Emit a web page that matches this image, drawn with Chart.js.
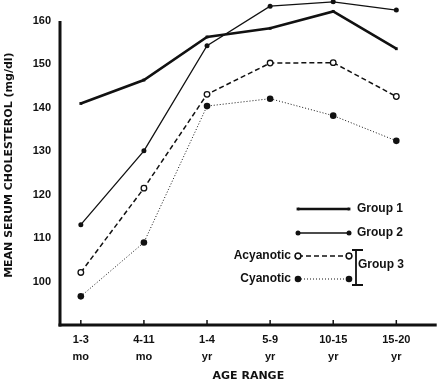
<!DOCTYPE html>
<html>
<head>
<meta charset="utf-8">
<script src="https://cdn.jsdelivr.net/npm/chart.js@4"></script>
<style>
html, body { margin: 0; padding: 0; background: #fff; }
#wrap { width: 442px; height: 379px; }
</style>
</head>
<body>
<div id="wrap"><canvas id="myChart"></canvas></div>
<script>
// values
var ageLabels = [["1-3", "mo"], ["4-11", "mo"], ["1-4", "yr"], ["5-9", "yr"], ["10-15", "yr"], ["15-20", "yr"]];
var yTicks = [100, 110, 120, 130, 140, 150, 160];
var group1 = [141, 146.4, 156.3, 158.3, 162.2, 153.6];
var group2 = [113.1, 130.1, 154.3, 163.4, 164.4, 162.5];
var acyanotic = [102.1, 121.5, 143.1, 150.3, 150.4, 142.6];
var cyanotic = [96.6, 109, 140.4, 142.1, 138.2, 132.4];

var INK = '#111';
var FONT = 'Liberation Sans, Arial, sans-serif';
var TFONT = 'DejaVu Sans, sans-serif';

function toPoints(arr) {
  return arr.map(function(v, i) { return { x: i, y: v }; });
}

var datasets = [
  { label: 'Group 1', data: toPoints(group1), borderColor: INK, backgroundColor: INK,
    borderWidth: 2.6, pointStyle: 'rect', pointRadius: 2, pointBorderWidth: 0 },
  { label: 'Group 2', data: toPoints(group2), borderColor: INK, backgroundColor: INK,
    borderWidth: 1.3, pointStyle: 'circle', pointRadius: 2.5, pointBorderWidth: 0 },
  { label: 'Acyanotic', data: toPoints(acyanotic), borderColor: INK, backgroundColor: '#fff',
    borderWidth: 1.5, borderDash: [5, 3], pointStyle: 'circle', pointRadius: 2.8, pointBorderWidth: 1.3 },
  { label: 'Cyanotic', data: toPoints(cyanotic), borderColor: INK, backgroundColor: INK,
    borderWidth: 1, borderDash: [1, 2], pointStyle: 'circle', pointRadius: 3.3, pointBorderWidth: 0 }
];
datasets.forEach(function(d) { d.tension = 0; d.clip = false; d.fill = false; });

// axis lines, tick stubs and the hand-laid legend
var decorPlugin = {
  id: 'decor',
  afterDraw: function(chart) {
    var ctx = chart.ctx;
    var xs = chart.scales.x, ys = chart.scales.y;
    var area = chart.chartArea;
    ctx.save();
    ctx.strokeStyle = INK;
    ctx.lineCap = 'butt';
    // y axis (only up to 160)
    ctx.lineWidth = 3;
    ctx.beginPath();
    ctx.moveTo(area.left, ys.getPixelForValue(160));
    ctx.lineTo(area.left, area.bottom + 1.5);
    ctx.stroke();
    // x axis
    ctx.beginPath();
    ctx.moveTo(area.left - 1.5, area.bottom);
    ctx.lineTo(area.right, area.bottom);
    ctx.stroke();
    // small upward ticks on x axis
    ctx.lineWidth = 1.5;
    for (var i = 0; i < ageLabels.length; i++) {
      var px = xs.getPixelForValue(i);
      ctx.beginPath();
      ctx.moveTo(px, area.bottom);
      ctx.lineTo(px, area.bottom - 5);
      ctx.stroke();
    }

    // legend
    var x0 = 298, x1 = 349;
    var rows = [209, 233, 256, 279];
    ctx.font = 'bold 12px ' + FONT;
    ctx.fillStyle = INK;
    ctx.textBaseline = 'middle';
    chart.data.datasets.forEach(function(d, k) {
      var y = rows[k];
      ctx.save();
      ctx.lineWidth = d.borderWidth;
      ctx.setLineDash(d.borderDash || []);
      ctx.beginPath();
      ctx.moveTo(x0, y);
      ctx.lineTo(x1, y);
      ctx.stroke();
      ctx.restore();
      [x0, x1].forEach(function(px) {
        Chart.helpers.drawPoint(ctx, {
          pointStyle: d.pointStyle, radius: d.pointRadius, rotation: 0,
          borderWidth: d.pointBorderWidth
        }, px, y);
        ctx.fillStyle = d.backgroundColor;
        ctx.strokeStyle = INK;
        ctx.lineWidth = d.pointBorderWidth;
        if (d.pointBorderWidth > 0) {
          ctx.beginPath();
          ctx.arc(px, y, d.pointRadius, 0, Math.PI * 2);
          ctx.fill();
          ctx.stroke();
        }
        ctx.fillStyle = INK;
      });
    });
    ctx.textAlign = 'left';
    ctx.fillText('Group 1', 357, rows[0]);
    ctx.fillText('Group 2', 357, rows[1]);
    ctx.textAlign = 'right';
    ctx.fillText('Acyanotic', 291, rows[2]);
    ctx.fillText('Cyanotic', 291, rows[3]);
    ctx.textAlign = 'left';
    ctx.fillText('Group 3', 358, 265);
    // bracket
    ctx.lineWidth = 1.8;
    ctx.beginPath();
    ctx.moveTo(356, 250); ctx.lineTo(356, 285);
    ctx.moveTo(352, 250); ctx.lineTo(363, 250);
    ctx.moveTo(352, 285); ctx.lineTo(363, 285);
    ctx.stroke();
    ctx.restore();
  }
};

var myChart = new Chart(document.getElementById('myChart'), {
  type: 'line',
  data: { datasets: datasets },
  options: {
    responsive: true,
    maintainAspectRatio: false,
    animation: false,
    layout: { padding: 0 },
    plugins: { legend: { display: false }, tooltip: { enabled: false } },
    scales: {
      x: {
        type: 'linear',
        min: -0.33,
        max: 5.64,
        afterBuildTicks: function(s) { s.ticks = ageLabels.map(function(l, i) { return { value: i }; }); },
        afterFit: function(s) { s.height = 54; s.paddingLeft = 0; s.paddingRight = 0; },
        grid: { display: false, drawTicks: false },
        border: { display: false },
        ticks: {
          padding: 6,
          color: INK,
          maxRotation: 0,
          autoSkip: false,
          font: { family: FONT, weight: 'bold', size: 11, lineHeight: 1.55 },
          callback: function(v) { return ageLabels[v]; }
        },
        title: {
          display: true, text: 'AGE RANGE', color: INK,
          padding: { top: 0, bottom: -4 },
          font: { family: TFONT, weight: 'bold', size: 11 }
        }
      },
      y: {
        min: 90,
        max: 163.6,
        afterBuildTicks: function(s) { s.ticks = yTicks.map(function(v) { return { value: v }; }); },
        afterFit: function(s) { s.width = 60; s.paddingTop = 0; s.paddingBottom = 0; },
        grid: { display: false, drawTicks: false },
        border: { display: false },
        ticks: {
          padding: 9,
          color: INK,
          font: { family: FONT, weight: 'bold', size: 11 }
        },
        title: {
          display: true, text: 'MEAN SERUM CHOLESTEROL (mg/dl)', color: INK,
          padding: { top: 3, bottom: 0 },
          font: { family: TFONT, weight: 'bold', size: 11 }
        }
      }
    }
  },
  plugins: [decorPlugin]
});
</script>
</body>
</html>
